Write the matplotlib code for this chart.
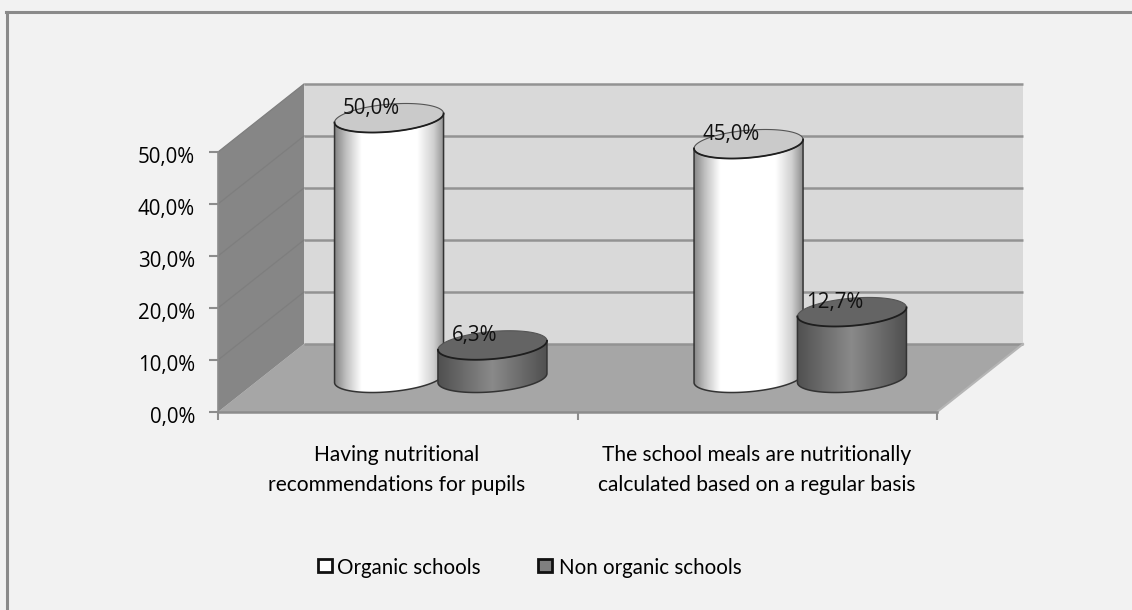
import numpy as np
import matplotlib
matplotlib.use("Agg")
import matplotlib.pyplot as plt
from matplotlib.colors import LinearSegmentedColormap
from matplotlib.lines import Line2D
from matplotlib.patches import Polygon, Rectangle
from matplotlib.transforms import ScaledTranslation

categories = ["Having nutritional\nrecommendations for pupils",
              "The school meals are nutritionally\ncalculated based on a regular basis"]
series_names = ["Organic schools", "Non organic schools"]
organic = [50.0, 45.0]
non_organic = [6.3, 12.7]
y_ticks = [0, 10, 20, 30, 40, 50]

BG = "#f2f2f2"
BACK_WALL = "#d9d9d9"
SIDE_WALL = "#868686"
FLOOR = "#a6a6a6"
GRID = "#939393"
AXIS = "#8c8c8c"
FRAME = "#8a8a8a"
TEXT_FONT = ["Lato", "DejaVu Sans"]

W, H = 1132, 610
# Front plane of the 3D box, in figure pixels
LEFT, RIGHT, BASE, TOP = 218, 937, 412, 152
# Shift between the front and back planes of the box, in figure pixels
DX_PX, DY_PX = 86, 68

fig = plt.figure(figsize=(W / 100, H / 100), dpi=100, facecolor=BG)
ax = fig.add_axes([LEFT / W, 1 - BASE / H, (RIGHT - LEFT) / W, (BASE - TOP) / H])
ax.patch.set_visible(False)
for s in ax.spines.values():
    s.set_visible(False)

px_x = 2 / (RIGHT - LEFT)
px_y = 50 / (BASE - TOP)
DX, DY = DX_PX * px_x, DY_PX * px_y


def project(x, v, depth):
    """Map a category position, a value and a depth (0 front, 1 back) to the axes."""
    return x + depth * DX, v + depth * DY


def poly(points, **kw):
    ax.add_patch(Polygon(points, closed=True, clip_on=False, **kw))


# Box walls and floor
poly([project(0, 0, 0), project(2, 0, 0), project(2, 0, 1), project(0, 0, 1)],
     fc=FLOOR, ec="none", zorder=1)
poly([project(0, 0, 1), project(2, 0, 1), project(2, 50, 1), project(0, 50, 1)],
     fc=BACK_WALL, ec="none", zorder=1)
poly([project(0, 0, 0), project(0, 0, 1), project(0, 50, 1), project(0, 50, 0)],
     fc=SIDE_WALL, ec="none", zorder=1)

# Gridlines run along the side wall, then across the back wall
for v in y_ticks[1:]:
    xs, ys = zip(project(0, v, 0), project(0, v, 1))
    ax.plot(xs, ys, color="#7e7e7e", lw=0.9, zorder=2, clip_on=False)
for v in y_ticks:
    xs, ys = zip(project(0, v, 1), project(2, v, 1))
    ax.plot(xs, ys, color=GRID, lw=1.8, zorder=2, clip_on=False, solid_capstyle="butt")
xs, ys = zip(project(2, 0, 0), project(2, 0, 1))
ax.plot(xs, ys, color="#b5b5b5", lw=1.5, zorder=2, clip_on=False)
ax.plot([0, 2], [0, 0], color=AXIS, lw=1.8, zorder=2, clip_on=False)
ax.plot([0, 0], [0, 50], color=AXIS, lw=1.2, zorder=2, clip_on=False)

# Axis ticks and labels
ax.set_yticks(y_ticks)
ax.set_yticklabels([f"{v:.1f}".replace(".", ",") + "%" for v in y_ticks],
                   fontsize=14.8, family=["Open Sans", "DejaVu Sans"], color="#000000")
ax.set_xticks([0, 1, 2])
ax.set_xticklabels(["", "", ""])
ax.tick_params(axis="y", length=6.5, width=1.5, color=AXIS, pad=10)
ax.tick_params(axis="x", length=6, width=1.5, color=AXIS)
# The y labels sit a little below their ticks
label_shift = ScaledTranslation(0, -3 / 100, fig.dpi_scale_trans)
for lab in ax.get_yticklabels():
    lab.set_transform(lab.get_transform() + label_shift)

for i, label in enumerate(categories):
    ax.annotate(label, xy=(i + 0.5, 0), xycoords="data", xytext=(-0.5, -23.5),
                textcoords="offset points", ha="center", va="top", fontsize=15.1,
                family=TEXT_FONT, color="#000000", linespacing=1.62)

# Shading across each cylinder, from its left edge to its right edge
white_cmap = LinearSegmentedColormap.from_list(
    "white_body", [(0, "#878787"), (0.1, "#c0c0c0"), (0.24, "#ffffff"),
                   (0.75, "#ffffff"), (0.9, "#d0d0d0"), (1, "#8e8e8e")])
dark_cmap = LinearSegmentedColormap.from_list(
    "dark_body", [(0, "#505050"), (0.5, "#8a8a8a"), (1, "#505050")])

HALF_W = 54.5 * px_x
TILT = 4.5 * px_y
MINOR = 13.8 * px_y
BAR_OFFSET = 51.7 * px_x
t = np.linspace(0, 2 * np.pi, 181)


def ellipse(cx, cv, angles):
    return np.column_stack([cx + HALF_W * np.cos(angles),
                            cv + MINOR * np.sin(angles) + TILT * np.cos(angles)])


def cylinder(x_cat, value, cmap, top_color, z):
    cx, base = project(x_cat, 0, 0.5)
    top = base + value
    front_bottom = ellipse(cx, base, np.linspace(np.pi, 2 * np.pi, 91))
    body = np.vstack([front_bottom, [cx + HALF_W, top + TILT], [cx - HALF_W, top - TILT]])
    outline = Polygon(body, closed=True, fc="none", ec="#333333", lw=1.1, zorder=z + 0.2,
                      clip_on=False)
    grad = np.linspace(0, 1, 256).reshape(1, -1)
    im = ax.imshow(grad, cmap=cmap, vmin=0, vmax=1, aspect="auto", zorder=z,
                   extent=[cx - HALF_W, cx + HALF_W, base - MINOR - TILT, top + TILT])
    ax.add_patch(outline)
    im.set_clip_box(fig.bbox)
    im.set_clip_path(outline)
    ax.add_patch(Polygon(ellipse(cx, top, t), closed=True, fc=top_color, ec="#555555", lw=0.8,
                         zorder=z + 0.3, clip_on=False))
    xs, ys = ellipse(cx, top, np.linspace(np.pi, 2 * np.pi, 91)).T
    ax.plot(xs, ys, color="#1e1e1e", lw=1.3, zorder=z + 0.4, clip_on=False)
    return cx, top


labels_at = []
for i in range(len(categories)):
    labels_at.append((cylinder(i + 0.5 - BAR_OFFSET, organic[i], white_cmap, "#cacaca", 3),
                      organic[i]))
    labels_at.append((cylinder(i + 0.5 + BAR_OFFSET, non_organic[i], dark_cmap, "#646464", 4),
                      non_organic[i]))
ax.set_xlim(0, 2)
ax.set_ylim(0, 50)

# Value labels sit on the upper left of each cylinder top
for (cx, top), value in labels_at:
    ax.text(cx - 17.5 * px_x, top + 9.5 * px_y, f"{value:.1f}".replace(".", ",") + "%",
            ha="center", va="center", fontsize=14.8, family=["Open Sans", "DejaVu Sans"],
            color="#111111", zorder=6, clip_on=False)

# Chart frame: only the top and left edges are visible
fig.add_artist(Line2D([7 / W, 7 / W], [0, 1 - 12 / H], color=FRAME, lw=2.2))
fig.add_artist(Line2D([6 / W, 1], [1 - 12 / H, 1 - 12 / H], color=FRAME, lw=2.2))

# Legend
legend_items = [(318, "#ffffff", series_names[0], 337), (538, "#7f7f7f", series_names[1], 559)]
for x0, color, name, text_x in legend_items:
    fig.add_artist(Rectangle((x0 / W, 1 - 572 / H), 14 / W, 13 / H, fc=color, ec="#111111",
                             lw=2.0, transform=fig.transFigure))
    fig.text(text_x / W, 1 - 568 / H, name, ha="left", va="center", fontsize=14.8,
             family=TEXT_FONT, color="#000000")

fig.savefig("out.png", dpi=100, facecolor=BG)
